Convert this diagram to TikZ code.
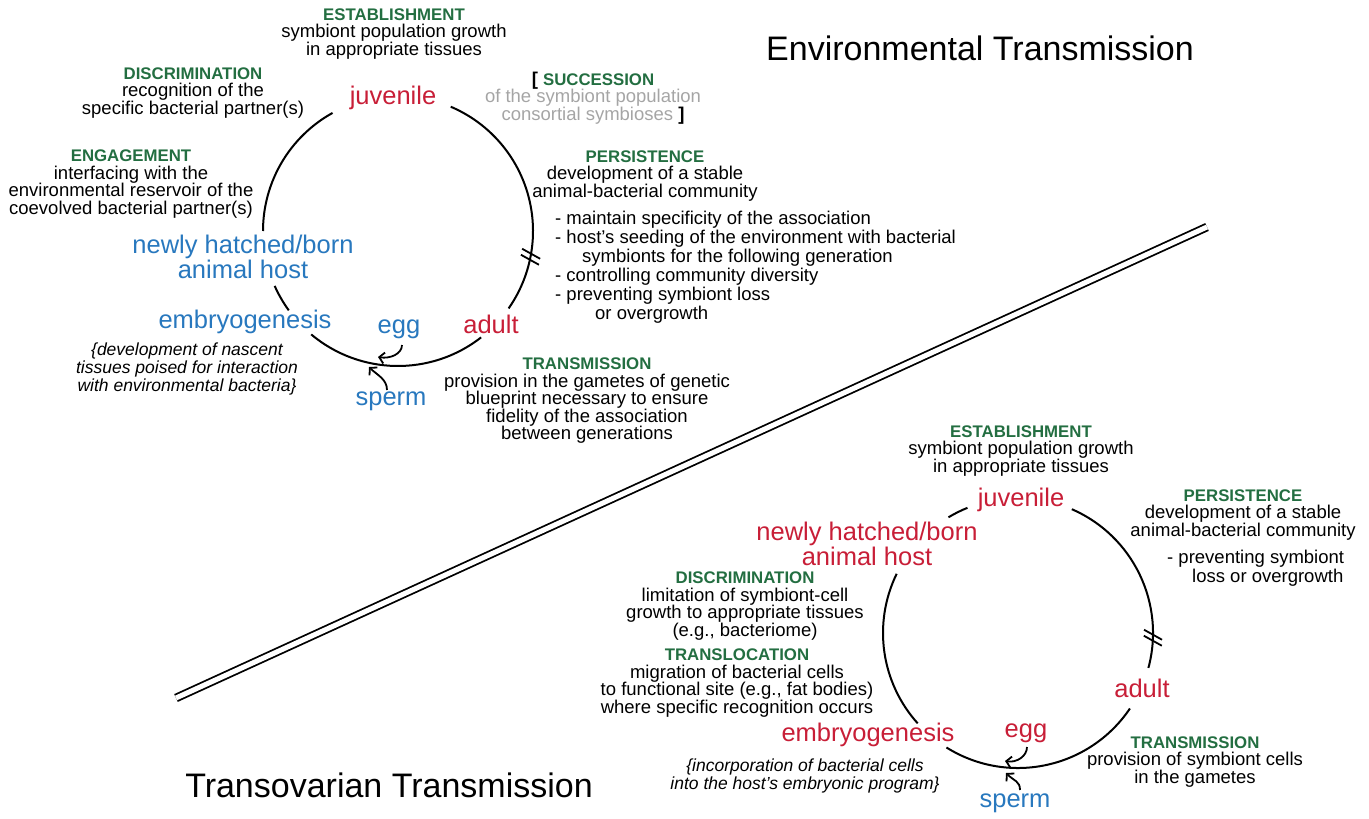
\documentclass[tikz,border=0pt]{standalone}
\usepackage{fontspec}
\setmainfont{Liberation Sans}
\usetikzlibrary{arrows.meta}
\definecolor{stred}{RGB}{200,30,55}
\definecolor{stblue}{RGB}{40,120,190}
\definecolor{hdgreen}{RGB}{35,110,65}
\definecolor{sgray}{RGB}{165,165,165}
\newcommand{\hd}[1]{{\fontsize{16.8}{17.5}\selectfont\bfseries\color{hdgreen}#1}}
\begin{document}
\begin{tikzpicture}[x=1pt,y=-1pt,
  body/.style={font=\fontsize{18.5}{17.5}\selectfont, align=center, inner sep=0pt},
  lst/.style={font=\fontsize{18.5}{19}\selectfont, align=left, inner sep=0pt, anchor=north west},
  ital/.style={font=\fontsize{17.5}{18}\selectfont\itshape, align=center, inner sep=0pt},
  stg/.style={font=\fontsize{25.5}{22}\selectfont, inner sep=0pt, align=center},
  stgred/.style={stg, text=stred},
  stgblue/.style={stg, text=stblue},
  cyc/.style={line width=2pt},
  brk/.style={line width=1.8pt},
  arr/.style={line width=1.8pt, -{Straight Barb[length=5pt,width=11pt]}},
  ttl/.style={font=\fontsize{34}{36}\selectfont, inner sep=0pt},
]
\useasboundingbox (0,0) rectangle (1369,819);

% titles
\node[ttl] (envt) at (980,48) {Environmental Transmission};
\node[ttl] (trant) at (389,785) {Transovarian Transmission};

% divider
\coordinate (d1) at (176,698);
\coordinate (d2) at (1207,227);
\draw[double, double distance=5pt, line width=1.8pt] (d1) -- (d2);

% ---------- environmental cycle ----------
\coordinate (c1) at (398,231);
\node[stgred] (juv1) at (393,98) {juvenile};
\node[stgblue] (new1) at (243,257) {newly hatched/born\\animal host};
\node[stgblue] (emb1) at (245,322) {embryogenesis};
\node[stgblue] (egg1) at (399,329) {egg};
\node[stgred] (adu1) at (491,324) {adult};
\node[stgblue] (spe1) at (391,401) {sperm};

\draw[cyc] (c1) ++(180:135) arc[start angle=180,end angle=241,radius=135];
\draw[cyc] (c1) ++(144:135) arc[start angle=144,end angle=156,radius=135];
\draw[cyc] (c1) ++(52:135) arc[start angle=52,end angle=130,radius=135];
\draw[cyc] (c1) ++(-67:135) arc[start angle=-67,end angle=35,radius=135];
\path (c1) ++(11:135) coordinate (bk1);
\draw[brk] ([shift={(-9.6,-2)}]bk1) -- ([shift={(8.4,8)}]bk1);
\draw[brk] ([shift={(-8.4,-8)}]bk1) -- ([shift={(9.6,2)}]bk1);

\coordinate (e1s) at (402,345);
\coordinate (e1t) at (378,357);
\coordinate (s1s) at (387,390);
\coordinate (s1t) at (369,367);
\draw[arr] (e1s) .. controls +(0,9) and +(12,2) .. (e1t);
\draw[arr] (s1s) .. controls +(0,-11) and +(8,8) .. (s1t);

\node[body] (est1) at (394,34) {\hd{ESTABLISHMENT}\\symbiont population growth\\in appropriate tissues};
\node[body] (disc1) at (193,93) {\hd{DISCRIMINATION}\\recognition of the\\specific bacterial partner(s)};
\node[body] (eng1) at (131,184) {\hd{ENGAGEMENT}\\interfacing with the\\environmental reservoir of the\\coevolved bacterial partner(s)};
\node[body, text=sgray] (succ) at (593,98) {{\color{black}\bfseries[} \hd{SUCCESSION}\\of the symbiont population\\consortial symbioses {\color{black}\bfseries]}};
\node[body] (pers1) at (645,176) {\hd{PERSISTENCE}\\development of a stable\\animal-bacterial community};
\node[lst] (list1) at (555,211) {- maintain specificity of the association\\- host's seeding of the environment with bacterial\\\hspace*{27pt}symbionts for the following generation\\- controlling community diversity\\- preventing symbiont loss\\\hspace*{40pt}or overgrowth};
\node[body] (trans1) at (587,401) {\hd{TRANSMISSION}\\provision in the gametes of genetic\\blueprint necessary to ensure\\fidelity of the association\\between generations};
\node[ital] (ital1) at (187,369) {\{development of nascent\\tissues poised for interaction\\with environmental bacteria\}};

% ---------- transovarian cycle ----------
\coordinate (c2) at (1018,633);
\node[stgred] (juv2) at (1021,500) {juvenile};
\node[stgred] (new2) at (867,544) {newly hatched/born\\animal host};
\node[stgred] (emb2) at (868,735) {embryogenesis};
\node[stgred] (egg2) at (1026,733) {egg};
\node[stgred] (adu2) at (1142,688) {adult};
\node[stgblue] (spe2) at (1015,803) {sperm};

\draw[cyc] (c2) ++(239:135) arc[start angle=239,end angle=248,radius=135];
\draw[cyc] (c2) ++(-66.5:135) arc[start angle=-66.5,end angle=15,radius=135];
\draw[cyc] (c2) ++(138:135) arc[start angle=138,end angle=206,radius=135];
\draw[cyc] (c2) ++(34:135) arc[start angle=34,end angle=122,radius=135];
\path (c2) ++(2:135) coordinate (bk2);
\draw[brk] ([shift={(-9.1,-2)}]bk2) -- ([shift={(8.9,8)}]bk2);
\draw[brk] ([shift={(-8.9,-8)}]bk2) -- ([shift={(9.1,2)}]bk2);

\coordinate (e2s) at (1027,747);
\coordinate (e2t) at (1005,761);
\coordinate (s2s) at (1020,790);
\coordinate (s2t) at (1006,773);
\draw[arr] (e2s) .. controls +(0,9) and +(12,2) .. (e2t);
\draw[arr] (s2s) .. controls +(0,-9) and +(8,8) .. (s2t);

\node[body] (est2) at (1021,451) {\hd{ESTABLISHMENT}\\symbiont population growth\\in appropriate tissues};
\node[body] (pers2) at (1243,515) {\hd{PERSISTENCE}\\development of a stable\\animal-bacterial community};
\node[lst] (list2) at (1167,550) {- preventing symbiont\\\hspace*{25pt}loss or overgrowth};
\node[body] (disc2) at (745,606) {\hd{DISCRIMINATION}\\limitation of symbiont-cell\\growth to appropriate tissues\\(e.g., bacteriome)};
\node[body] (transl2) at (737,683) {\hd{TRANSLOCATION}\\migration of bacterial cells\\to functional site (e.g., fat bodies)\\where specific recognition occurs};
\node[ital] (ital2) at (805,776) {\{incorporation of bacterial cells\\into the host's embryonic program\}};
\node[body] (trans2) at (1195,762) {\hd{TRANSMISSION}\\provision of symbiont cells\\in the gametes};
\end{tikzpicture}
\end{document}
